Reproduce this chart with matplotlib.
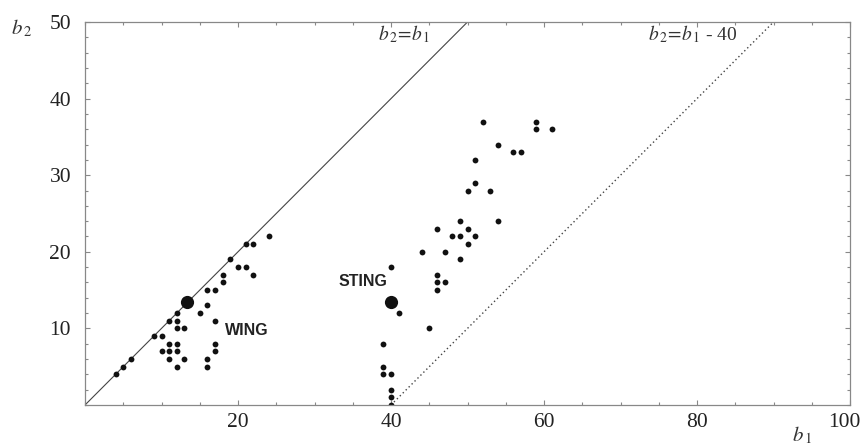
import matplotlib
matplotlib.use("Agg")
import matplotlib.pyplot as plt
from matplotlib.ticker import MultipleLocator, FixedLocator, FixedFormatter
from matplotlib.transforms import ScaledTranslation

plt.rcParams['mathtext.fontset'] = 'stix'

# WING cluster points (b1, b2)
wing_b1 = [4, 5, 6, 9, 10, 10, 11, 11, 11, 11, 12, 12, 12, 12, 12, 12, 13, 13,
           15, 16, 17, 16, 17, 16, 16, 17, 17, 18, 18, 19, 20, 21, 21, 22, 22, 24]
wing_b2 = [4, 5, 6, 9, 9, 7, 8, 7, 6, 11, 12, 11, 10, 8, 7, 5, 10, 6,
           12, 15, 15, 13, 11, 6, 5, 8, 7, 16, 17, 19, 18, 18, 21, 21, 17, 22]

# STING cluster points (b1, b2)
sting_b1 = [52, 59, 59, 61, 54, 56, 57, 51, 51, 50, 53, 49, 54, 46, 50, 48, 49, 51,
            50, 44, 47, 49, 40, 46, 46, 47, 46, 41, 45, 39, 39, 39, 40, 40, 40, 40]
sting_b2 = [37, 37, 36, 36, 34, 33, 33, 32, 29, 28, 28, 24, 24, 23, 23, 22, 22, 22,
            21, 20, 20, 19, 18, 17, 16, 16, 15, 12, 10, 8, 5, 4, 4, 2, 1, 0]

# Highlighted models
big_b1 = [13.3, 40.0]
big_b2 = [13.4, 13.4]
big_names = ["WING", "STING"]

# Reference lines
line1_b1 = [0, 50]
line1_b2 = [0, 50]
line2_b1 = [40, 90]
line2_b2 = [0, 50]

xtick_vals = [20, 40, 60, 80, 100]
xtick_labels = ["20", "40", "60", "80", "100"]
ytick_vals = [10, 20, 30, 40, 50]
ytick_labels = ["10", "20", "30", "40", "50"]

fig = plt.figure(figsize=(8.64, 4.46), dpi=100)
ax = fig.add_axes([85/864, 41/446, 765/864, 383/446])
ax.set_xlim(0, 100)
ax.set_ylim(0, 50)

ax.plot(line1_b1, line1_b2, color='#444444', lw=0.8)
ax.plot(line2_b1, line2_b2, color='#444444', lw=1.0, linestyle=(0, (1, 2)))

ax.plot(wing_b1, wing_b2, 'o', color='#111111', ms=4.2, mew=0)
ax.plot(sting_b1, sting_b2, 'o', color='#111111', ms=4.2, mew=0)
ax.plot(big_b1, big_b2, 'o', color='#111111', ms=9.5, mew=0)

ax.text(18.3, 9.7, big_names[0], fontsize=11.5, fontweight='bold',
        family='Liberation Sans', color='#222222', ha='left', va='center')
ax.text(39.5, 16.1, big_names[1], fontsize=11.5, fontweight='bold',
        family='Liberation Sans', color='#222222', ha='right', va='center')

ax.text(38.3, 48.4, r'$b_{\,2}\!=\!b_{\,1}$', fontsize=14, color='#333333',
        ha='left', va='center')
ax.text(73.6, 48.4, r'$b_{\,2}\!=\!b_{\,1}$ - 40', fontsize=14, color='#333333',
        ha='left', va='center', family='Liberation Serif')

ax.text(-0.083, 0.985, r'$b_{\,2}$', transform=ax.transAxes, fontsize=15,
        color='#333333', ha='center', va='center')
ax.text(0.937, -0.078, r'$b_{\,1}$', transform=ax.transAxes, fontsize=15,
        color='#333333', ha='center', va='center')

ax.xaxis.set_major_locator(FixedLocator(xtick_vals))
ax.xaxis.set_major_formatter(FixedFormatter(xtick_labels))
ax.xaxis.set_minor_locator(MultipleLocator(5))
ax.yaxis.set_major_locator(FixedLocator(ytick_vals))
ax.yaxis.set_major_formatter(FixedFormatter(ytick_labels))
ax.yaxis.set_minor_locator(MultipleLocator(2))

for s in ax.spines.values():
    s.set_color('#888888')
    s.set_linewidth(0.9)

ax.tick_params(which='both', direction='in', top=True, right=True,
               color='#888888', width=0.8)
ax.tick_params(which='major', length=3.5)
ax.tick_params(which='minor', length=2.5)
ax.tick_params(axis='x', which='major', pad=6, labelsize=15.5, labelcolor='#222222')
ax.tick_params(axis='y', which='major', pad=10, labelsize=15.5, labelcolor='#222222')
for lab in ax.get_xticklabels() + ax.get_yticklabels():
    lab.set_family('Liberation Serif')

last = ax.get_xticklabels()[-1]
last.set_transform(last.get_transform() + ScaledTranslation(-6/100, 0, fig.dpi_scale_trans))

fig.savefig('out.png', dpi=100)
